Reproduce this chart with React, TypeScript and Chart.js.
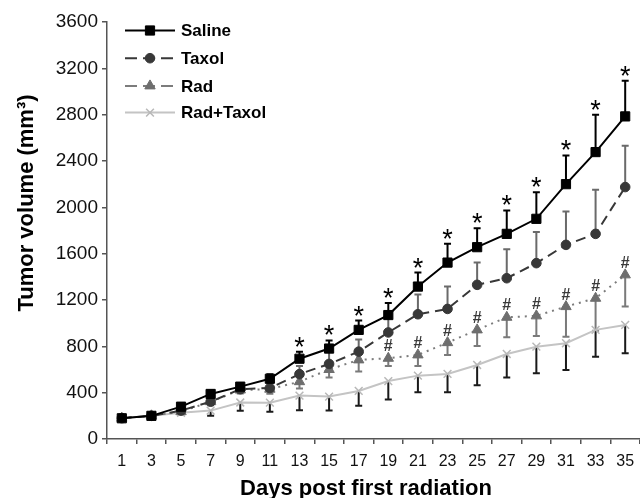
import React, { useEffect, useRef } from 'react';
import { Chart, registerables } from 'chart.js';
import { drawPoint } from 'chart.js/helpers';

Chart.register(...registerables);

const days = ['1', '3', '5', '7', '9', '11', '13', '15', '17', '19', '21', '23', '25', '27', '29', '31', '33', '35'];

const saline = [179, 200, 279, 389, 452, 520, 693, 781, 942, 1070, 1316, 1523, 1656, 1771, 1901, 2200, 2477, 2785];
const salineErr = [12, 15, 20, 30, 30, 40, 60, 70, 80, 105, 121, 162, 164, 202, 230, 248, 322, 308];

const taxol = [180, 200, 245, 322, 430, 440, 560, 648, 754, 920, 1077, 1123, 1331, 1388, 1518, 1676, 1771, 2175];
const taxolErr = [10, 10, 20, 30, 35, 45, 70, 110, 105, 140, 170, 193, 192, 251, 270, 288, 380, 357];

const rad = [180, 200, 236, 322, 423, 430, 495, 600, 683, 697, 726, 832, 942, 1051, 1063, 1143, 1215, 1417];
const radErr = [10, 10, 20, 30, 30, 40, 60, 70, 100, 66, 95, 106, 139, 173, 173, 260, 280, 274];

const radTaxol = [180, 200, 227, 245, 315, 314, 375, 366, 415, 500, 547, 562, 639, 734, 797, 827, 942, 985];
const radTaxolErr = [5, 5, 10, 45, 71, 78, 127, 121, 129, 158, 144, 159, 176, 204, 230, 231, 231, 245];

const salineSig = ['', '', '', '', '', '', '*', '*', '*', '*', '*', '*', '*', '*', '*', '*', '*', '*'];
const radSig = ['', '', '', '', '', '', '', '', '', '#', '#', '#', '#', '#', '#', '#', '#', '#'];

const yTicks = [0, 400, 800, 1200, 1600, 2000, 2400, 2800, 3200, 3600];

const FONT = '"Liberation Sans", Arial, sans-serif';

const errSets = [salineErr, taxolErr, radErr, radTaxolErr];
const errDir = [1, 1, -1, -1];
const errColor = ['#000000', '#6a6a6a', '#7a7a7a', '#1a1a1a'];

const errorBarPlugin = {
  id: 'errorBars',
  beforeDatasetsDraw(chart: any) {
    const { ctx } = chart;
    const yScale = chart.scales.y;
    chart.data.datasets.forEach((ds: any, i: number) => {
      const meta = chart.getDatasetMeta(i);
      const errs = errSets[i];
      ctx.save();
      ctx.strokeStyle = errColor[i];
      ctx.lineWidth = 2;
      meta.data.forEach((pt: any, j: number) => {
        const v = ds.data[j];
        const end = yScale.getPixelForValue(v + errDir[i] * errs[j]);
        ctx.beginPath();
        ctx.moveTo(pt.x, pt.y);
        ctx.lineTo(pt.x, end);
        ctx.moveTo(pt.x - 3.5, end);
        ctx.lineTo(pt.x + 3.5, end);
        ctx.stroke();
      });
      ctx.restore();
    });
  },
};

const drawCentered = (ctx: any, text: string, x: number, cy: number) => {
  const m = ctx.measureText(text);
  const asc = m.actualBoundingBoxAscent;
  const desc = m.actualBoundingBoxDescent;
  ctx.fillText(text, x, cy + (asc - desc) / 2);
};

const sigPlugin = {
  id: 'sigMarks',
  afterDatasetsDraw(chart: any) {
    const { ctx } = chart;
    const yScale = chart.scales.y;
    const salMeta = chart.getDatasetMeta(0);
    const radMeta = chart.getDatasetMeta(2);
    ctx.save();
    ctx.textAlign = 'center';
    ctx.textBaseline = 'alphabetic';
    ctx.fillStyle = '#000';
    ctx.font = `27px ${FONT}`;
    salMeta.data.forEach((pt: any, j: number) => {
      if (!salineSig[j]) return;
      const top = yScale.getPixelForValue(saline[j] + salineErr[j]);
      drawCentered(ctx, salineSig[j], pt.x, top - 10);
    });
    ctx.fillStyle = '#3a3a3a';
    ctx.font = `bold 16px ${FONT}`;
    radMeta.data.forEach((pt: any, j: number) => {
      if (!radSig[j]) return;
      drawCentered(ctx, radSig[j], pt.x, pt.y - 13);
    });
    ctx.restore();
  },
};

const legendPlugin = {
  id: 'customLegend',
  afterDraw(chart: any) {
    const { ctx } = chart;
    const ca = chart.chartArea;
    const x0 = ca.left + 18;
    const x1 = ca.left + 68;
    const xm = (x0 + x1) / 2;
    const tx = ca.left + 74;
    const rowY = [30.5, 58.2, 85.9, 112.6];
    const dashes = [[], [12, 6], [12, 6], []];
    ctx.save();
    chart.data.datasets.forEach((ds: any, i: number) => {
      const y = rowY[i];
      ctx.save();
      ctx.strokeStyle = ds.borderColor;
      ctx.lineWidth = 2;
      ctx.setLineDash(dashes[i]);
      ctx.beginPath();
      ctx.moveTo(x0, y);
      ctx.lineTo(x1, y);
      ctx.stroke();
      ctx.restore();
      ctx.save();
      ctx.fillStyle = ds.pointBackgroundColor;
      ctx.strokeStyle = ds.pointBorderColor;
      ctx.lineWidth = ds.pointBorderWidth;
      drawPoint(ctx, { pointStyle: ds.pointStyle, rotation: 0, borderWidth: ds.pointBorderWidth, radius: ds.pointRadius }, xm, y);
      ctx.restore();
      ctx.fillStyle = '#000';
      ctx.font = `bold 17px ${FONT}`;
      ctx.textAlign = 'left';
      ctx.textBaseline = 'middle';
      ctx.fillText(ds.label, tx, y + 1);
    });
    ctx.restore();
  },
};

const axisTitlePlugin = {
  id: 'axisTitles',
  afterDraw(chart: any) {
    const { ctx } = chart;
    ctx.save();
    ctx.fillStyle = '#000';
    ctx.font = `bold 22px ${FONT}`;
    ctx.textAlign = 'center';
    ctx.textBaseline = 'alphabetic';
    ctx.fillText('Days post first radiation', 366, 495);
    ctx.translate(33, 203);
    ctx.rotate(-Math.PI / 2);
    ctx.fillText('Tumor volume (mm\u00B3)', 0, 0);
    ctx.restore();
  },
};

export default function App() {
  const ref = useRef<HTMLCanvasElement>(null);

  useEffect(() => {
    document.body.style.margin = '0';
    const canvas = ref.current;
    if (!canvas) return;
    const chart = new Chart(canvas, {
      type: 'line',
      data: {
        labels: days,
        datasets: [
          {
            label: 'Saline',
            data: saline,
            borderColor: '#000000',
            backgroundColor: '#000000',
            pointBackgroundColor: '#000000',
            pointBorderColor: '#000000',
            pointBorderWidth: 1,
            borderWidth: 2,
            pointStyle: 'rect',
            pointRadius: 6.5,
            tension: 0,
          },
          {
            label: 'Taxol',
            data: taxol,
            borderColor: '#383838',
            backgroundColor: '#383838',
            pointBackgroundColor: '#383838',
            pointBorderColor: '#383838',
            pointBorderWidth: 1,
            borderWidth: 2,
            borderDash: [10, 6],
            pointStyle: 'circle',
            pointRadius: 4.8,
            tension: 0,
          },
          {
            label: 'Rad',
            data: rad,
            borderColor: '#7c7c7c',
            backgroundColor: '#6e6e6e',
            pointBackgroundColor: '#6e6e6e',
            pointBorderColor: '#6e6e6e',
            pointBorderWidth: 1,
            borderWidth: 2,
            borderDash: [2, 5],
            pointStyle: 'triangle',
            pointRadius: 6,
            tension: 0,
          },
          {
            label: 'Rad+Taxol',
            data: radTaxol,
            borderColor: '#c4c4c4',
            backgroundColor: '#b8b8b8',
            pointBackgroundColor: '#b8b8b8',
            pointBorderColor: '#b8b8b8',
            pointBorderWidth: 1.5,
            borderWidth: 2,
            pointStyle: 'crossRot',
            pointRadius: 5.5,
            tension: 0,
          },
        ],
      },
      options: {
        responsive: false,
        animation: false,
        devicePixelRatio: 1,
        layout: { autoPadding: false, padding: { top: 22, right: 0, left: 0, bottom: 0 } },
        plugins: {
          legend: { display: false },
          tooltip: { enabled: false },
          title: { display: false },
        },
        scales: {
          x: {
            type: 'category',
            offset: true,
            grid: {
              offset: true,
              drawOnChartArea: false,
              drawTicks: true,
              tickLength: 5,
              color: '#555',
              lineWidth: 1.5,
            },
            border: { display: true, color: '#555', width: 1.5 },
            ticks: {
              color: '#111',
              font: { family: FONT, size: 16 },
              padding: 8,
              maxRotation: 0,
              autoSkip: false,
            },
            afterFit: (scale: any) => {
              scale.height = 59;
              scale.paddingLeft = 0;
              scale.paddingRight = 0;
            },
          },
          y: {
            type: 'linear',
            min: 0,
            max: 3600,
            afterBuildTicks: (scale: any) => {
              scale.ticks = yTicks.map((v) => ({ value: v }));
            },
            grid: {
              drawOnChartArea: false,
              drawTicks: true,
              tickLength: 5,
              color: '#555',
              lineWidth: 1.5,
            },
            border: { display: true, color: '#555', width: 1.5 },
            ticks: {
              color: '#111',
              font: { family: FONT, size: 19 },
              padding: 4,
              callback: (v: any) => String(v),
            },
            afterFit: (scale: any) => {
              scale.width = 107;
            },
          },
        },
      },
      plugins: [errorBarPlugin, sigPlugin, legendPlugin, axisTitlePlugin],
    });
    return () => chart.destroy();
  }, []);

  return (
    <div style={{ position: 'absolute', left: 0, top: 0, width: 640, height: 498, background: '#fff' }}>
      <canvas ref={ref} width={640} height={498} style={{ display: 'block', width: 640, height: 498 }} />
    </div>
  );
}
